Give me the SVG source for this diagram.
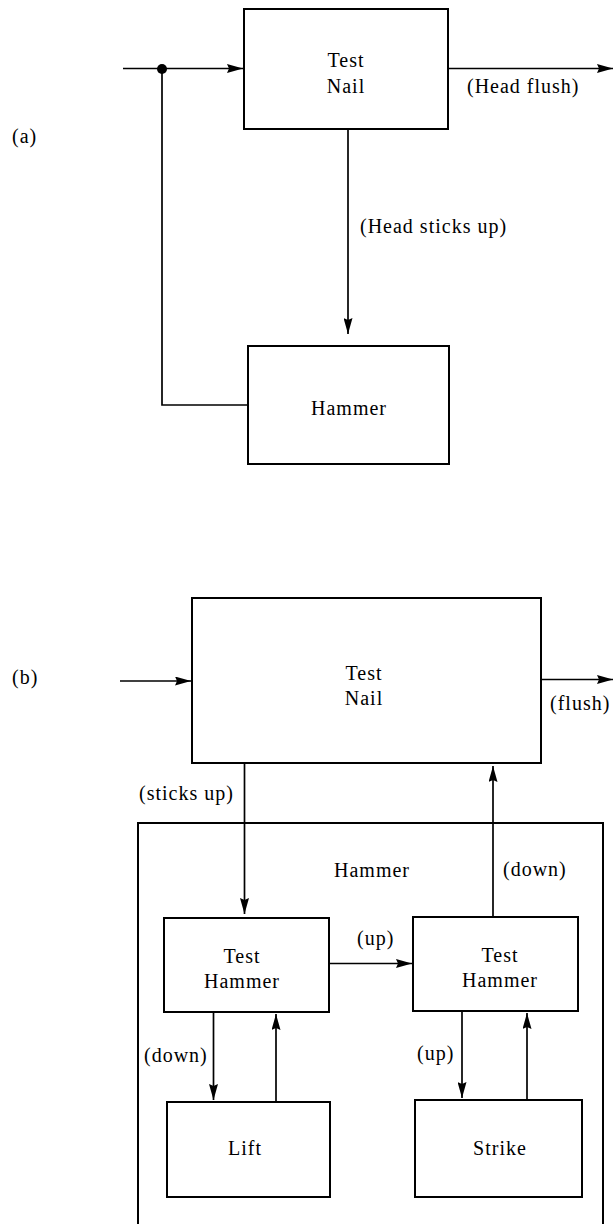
<svg xmlns="http://www.w3.org/2000/svg" width="613" height="1224" viewBox="0 0 613 1224">
<defs>
<style>
.box{fill:none;stroke:#000;stroke-width:2}
.ln{fill:none;stroke:#000;stroke-width:1.7}
text{font-family:"Liberation Serif","Times New Roman",serif;font-size:20px;letter-spacing:1px;fill:#000}
.c{text-anchor:middle}
</style>
<marker id="ah" viewBox="0 0 16 9" refX="16" refY="4.5" markerWidth="16" markerHeight="9" markerUnits="userSpaceOnUse" orient="auto">
<path d="M0,0 L16,4.5 L0,9 L2,4.5 Z" fill="#000"/>
</marker>
</defs>
<rect width="613" height="1224" fill="#fff"/>
<text x="12" y="143">(a)</text>
<text x="12" y="684">(b)</text>
<g id="a-testnail">
<rect class="box" x="244" y="9" width="204" height="120"/>
<text class="c" x="346" y="67">Test</text>
<text class="c" x="346" y="93">Nail</text>
</g>
<g id="a-hammer">
<rect class="box" x="248" y="346" width="201" height="118"/>
<text class="c" x="349" y="415">Hammer</text>
</g>
<g id="b-testnail">
<rect class="box" x="192" y="598" width="349" height="165"/>
<text class="c" x="364" y="680">Test</text>
<text class="c" x="364" y="705">Nail</text>
</g>
<g id="b-hammer">
<rect class="box" x="138" y="823" width="465" height="420"/>
<text class="c" x="372" y="877">Hammer</text>
</g>
<g id="b-testhammer1">
<rect class="box" x="164" y="918" width="165" height="94"/>
<text class="c" x="242" y="963">Test</text>
<text class="c" x="242" y="988">Hammer</text>
</g>
<g id="b-testhammer2">
<rect class="box" x="413" y="917" width="165" height="94"/>
<text class="c" x="500" y="962">Test</text>
<text class="c" x="500" y="987">Hammer</text>
</g>
<g id="b-lift">
<rect class="box" x="167" y="1102" width="163" height="95"/>
<text class="c" x="245" y="1155">Lift</text>
</g>
<g id="b-strike">
<rect class="box" x="415" y="1100" width="167" height="97"/>
<text class="c" x="500" y="1155">Strike</text>
</g>
<g id="connectors">
<path class="ln" d="M123,68.5 H243" marker-end="url(#ah)"/>
<circle cx="162" cy="69" r="5" fill="#000"/>
<path class="ln" d="M448,68.5 H613" marker-end="url(#ah)"/>
<path class="ln" d="M348,129 V334" marker-end="url(#ah)"/>
<path class="ln" d="M248,405 H162 V69"/>
<path class="ln" d="M120,681 H191" marker-end="url(#ah)"/>
<path class="ln" d="M541,679.5 H613" marker-end="url(#ah)"/>
<path class="ln" d="M244.5,763 V914" marker-end="url(#ah)"/>
<path class="ln" d="M493,917 V766" marker-end="url(#ah)"/>
<path class="ln" d="M329,963.5 H412" marker-end="url(#ah)"/>
<path class="ln" d="M213.5,1012 V1100" marker-end="url(#ah)"/>
<path class="ln" d="M276,1102 V1014" marker-end="url(#ah)"/>
<path class="ln" d="M462,1011 V1098" marker-end="url(#ah)"/>
<path class="ln" d="M527,1100 V1013" marker-end="url(#ah)"/>
<text x="467" y="93">(Head flush)</text>
<text x="360" y="233">(Head sticks up)</text>
<text x="550" y="710">(flush)</text>
<text x="139" y="800">(sticks up)</text>
<text x="503" y="876">(down)</text>
<text x="357" y="945">(up)</text>
<text x="144" y="1062">(down)</text>
<text x="417" y="1060">(up)</text>
</g>
</svg>
